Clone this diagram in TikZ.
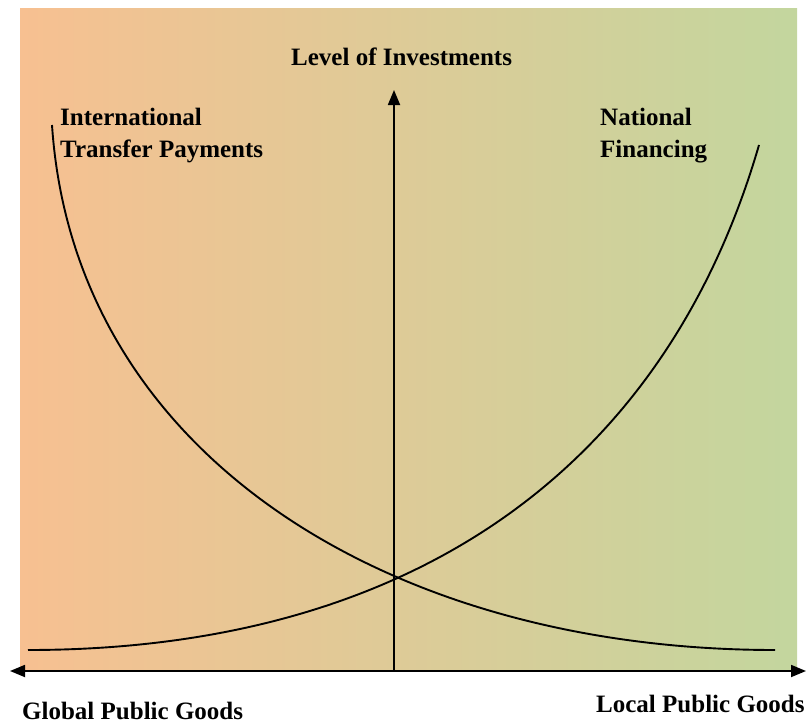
\documentclass[tikz,border=0pt]{standalone}
\usepackage{fontspec}
\setmainfont{Liberation Serif}
\usetikzlibrary{arrows.meta}
\definecolor{bgleft}{RGB}{247,192,145}
\definecolor{bgright}{RGB}{195,214,158}
\tikzset{
  lbl/.style={font=\fontsize{25}{30}\selectfont\bfseries, inner sep=0pt, anchor=base west},
  curve/.style={line width=1.9pt, black},
  axis/.style={line width=1.8pt, black}
}
\begin{document}
\begin{tikzpicture}[x=1pt,y=-1pt]
\useasboundingbox (0,0) rectangle (809,725);
\shade[left color=bgleft,right color=bgright] (20,9) rectangle (797,671);
% axes
\coordinate (xl) at (10,671);
\coordinate (xr) at (806,671);
\coordinate (yb) at (394,671);
\coordinate (yt) at (394,90);
\draw[axis,{Triangle[length=15pt,width=12pt]}-{Triangle[length=15pt,width=12pt]}] (xl) -- (xr);
\draw[axis,-{Triangle[length=15pt,width=12pt]}] (yb) -- (yt);
% curves
\coordinate (itpS) at (52,125);
\coordinate (itpE) at (775,650);
\coordinate (nfS) at (28,650);
\coordinate (nfE) at (759,145);
\draw[curve] (itpS) .. controls (74,455) and (390,650) .. (itpE);
\draw[curve] (nfS) .. controls (404,650) and (663,475) .. (nfE);
% labels
\node[lbl] (yl) at (291,66) {Level of Investments};
\node[lbl] (itp1) at (60,125) {International};
\node[lbl] (itp2) at (60,157) {Transfer Payments};
\node[lbl] (nf1) at (600,125) {National};
\node[lbl] (nf2) at (600,157) {Financing};
\node[lbl] (gpg) at (22,719) {Global Public Goods};
\node[lbl] (lpg) at (596,712) {Local Public Goods};
\end{tikzpicture}
\end{document}
